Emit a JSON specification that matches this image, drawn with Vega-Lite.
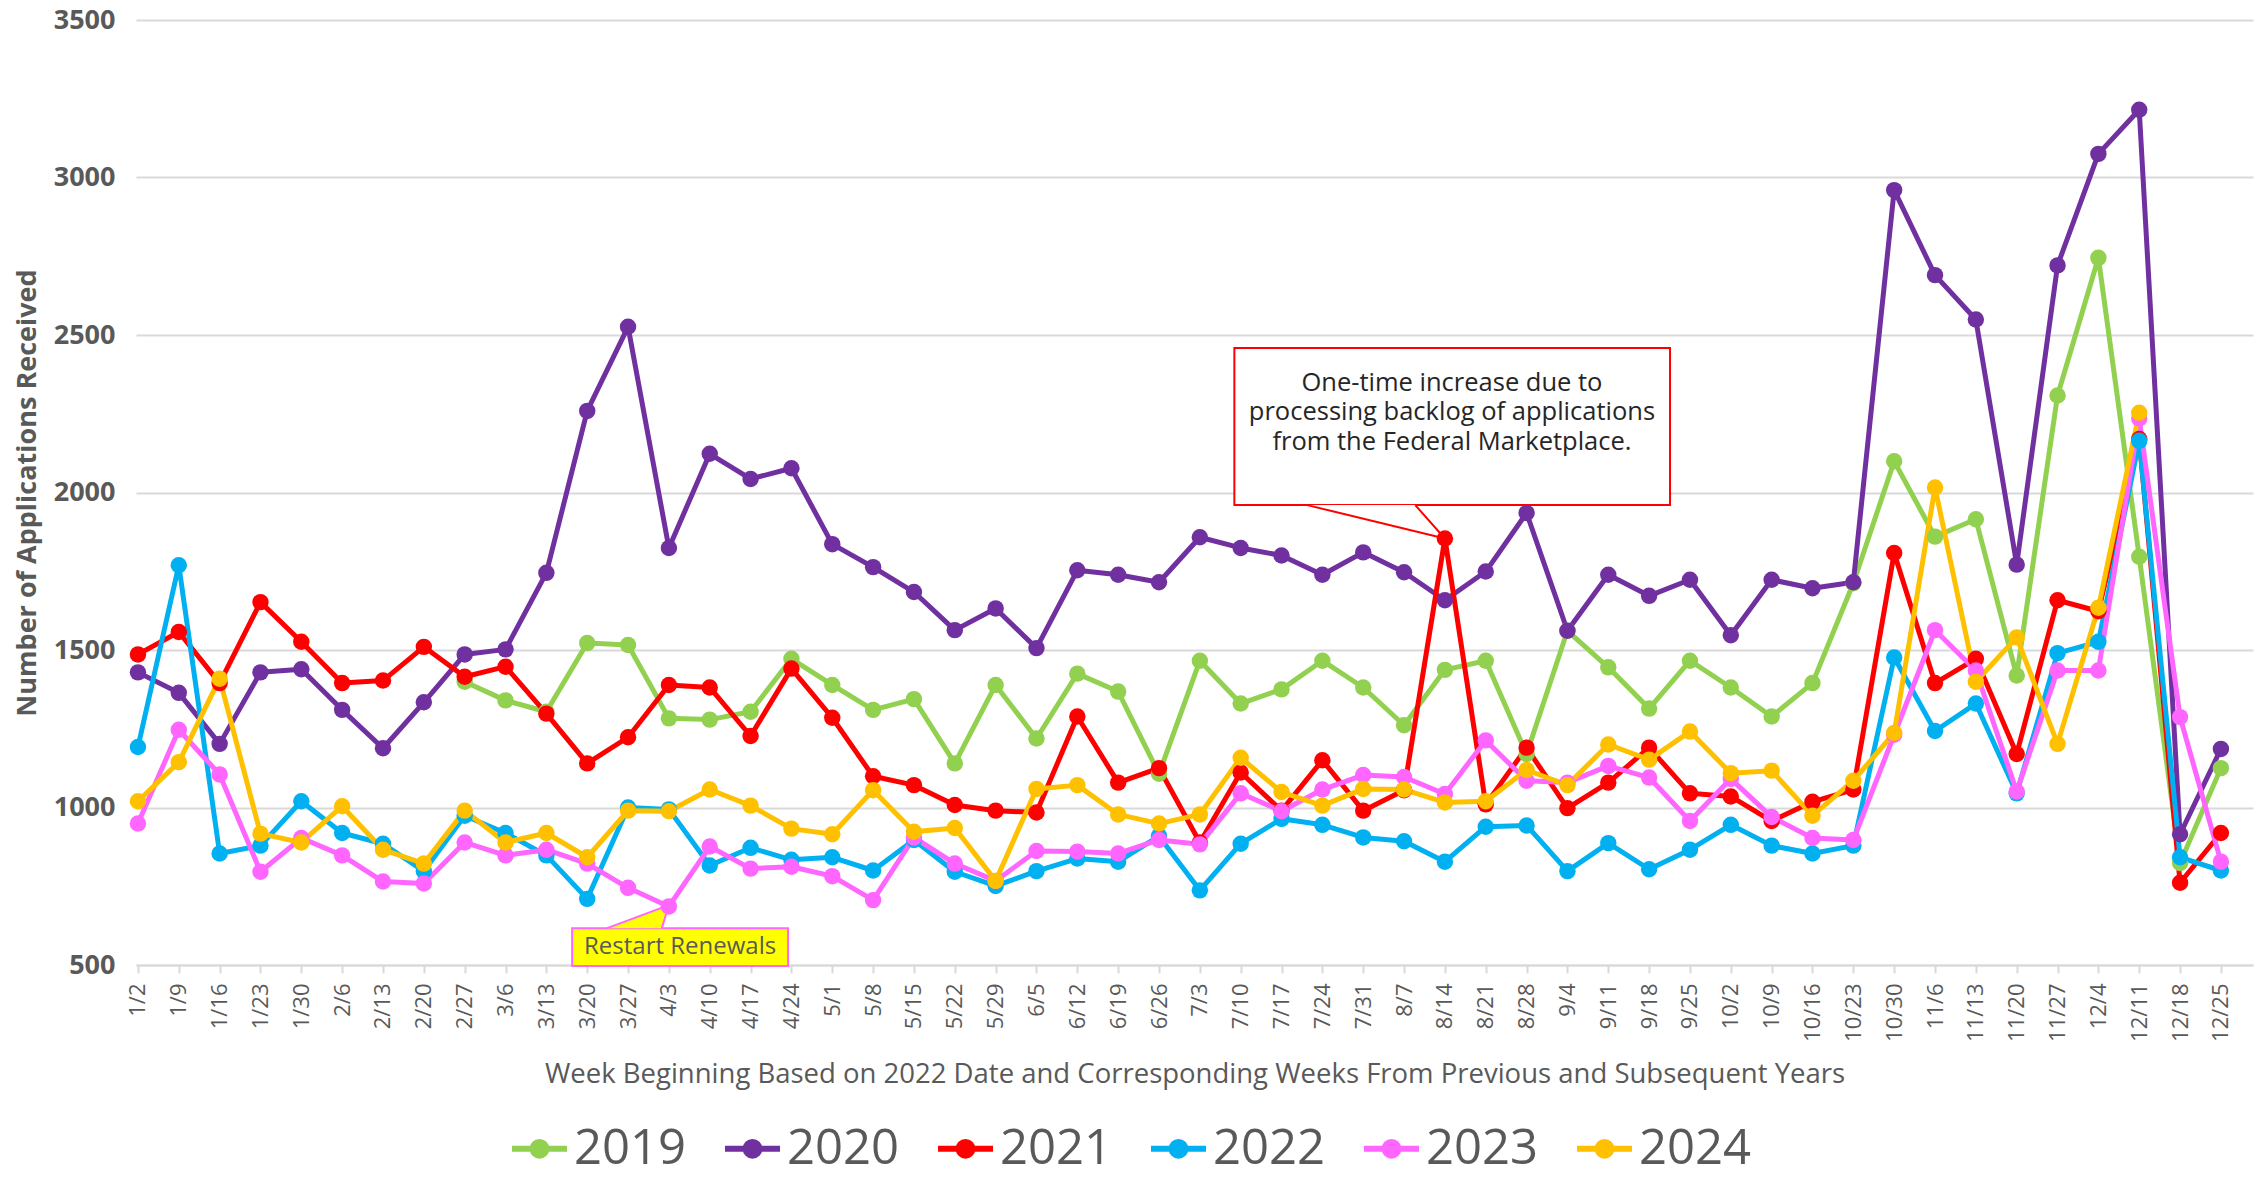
{
"$schema": "https://vega.github.io/schema/vega-lite/v6.json",
"width": 2117, "height": 945,
"autosize": {"type": "none"},
"padding": {"left": 136, "top": 20, "right": 14, "bottom": 216},
"background": "white",
"config": {"view": {"stroke": null}, "font": "Open Sans"},
"datasets": {
"apps": [
{"w":"2022-02-27","s":"2019","v":1399},{"w":"2022-03-06","s":"2019","v":1340},{"w":"2022-03-13","s":"2019","v":1304},{"w":"2022-03-20","s":"2019","v":1522},{"w":"2022-03-27","s":"2019","v":1516},{"w":"2022-04-03","s":"2019","v":1283},{"w":"2022-04-10","s":"2019","v":1279},{"w":"2022-04-17","s":"2019","v":1304},{"w":"2022-04-24","s":"2019","v":1472},{"w":"2022-05-01","s":"2019","v":1389},{"w":"2022-05-08","s":"2019","v":1310},{"w":"2022-05-15","s":"2019","v":1344},{"w":"2022-05-22","s":"2019","v":1140},{"w":"2022-05-29","s":"2019","v":1389},{"w":"2022-06-05","s":"2019","v":1219},{"w":"2022-06-12","s":"2019","v":1425},{"w":"2022-06-19","s":"2019","v":1368},{"w":"2022-06-26","s":"2019","v":1107},{"w":"2022-07-03","s":"2019","v":1466},{"w":"2022-07-10","s":"2019","v":1330},{"w":"2022-07-17","s":"2019","v":1375},{"w":"2022-07-24","s":"2019","v":1466},{"w":"2022-07-31","s":"2019","v":1381},{"w":"2022-08-07","s":"2019","v":1261},{"w":"2022-08-14","s":"2019","v":1437},{"w":"2022-08-21","s":"2019","v":1466},{"w":"2022-08-28","s":"2019","v":1170},{"w":"2022-09-04","s":"2019","v":1561},{"w":"2022-09-11","s":"2019","v":1445},{"w":"2022-09-18","s":"2019","v":1314},{"w":"2022-09-25","s":"2019","v":1466},{"w":"2022-10-02","s":"2019","v":1381},{"w":"2022-10-09","s":"2019","v":1289},{"w":"2022-10-16","s":"2019","v":1395},{"w":"2022-10-23","s":"2019","v":1712},{"w":"2022-10-30","s":"2019","v":2099},{"w":"2022-11-06","s":"2019","v":1860},{"w":"2022-11-13","s":"2019","v":1915},{"w":"2022-11-20","s":"2019","v":1419},{"w":"2022-11-27","s":"2019","v":2308},{"w":"2022-12-04","s":"2019","v":2745},{"w":"2022-12-11","s":"2019","v":1796},{"w":"2022-12-18","s":"2019","v":824},{"w":"2022-12-25","s":"2019","v":1125},
{"w":"2022-01-02","s":"2020","v":1429},{"w":"2022-01-09","s":"2020","v":1364},{"w":"2022-01-16","s":"2020","v":1202},{"w":"2022-01-23","s":"2020","v":1429},{"w":"2022-01-30","s":"2020","v":1439},{"w":"2022-02-06","s":"2020","v":1310},{"w":"2022-02-13","s":"2020","v":1188},{"w":"2022-02-20","s":"2020","v":1334},{"w":"2022-02-27","s":"2020","v":1486},{"w":"2022-03-06","s":"2020","v":1502},{"w":"2022-03-13","s":"2020","v":1745},{"w":"2022-03-20","s":"2020","v":2259},{"w":"2022-03-27","s":"2020","v":2526},{"w":"2022-04-03","s":"2020","v":1824},{"w":"2022-04-10","s":"2020","v":2123},{"w":"2022-04-17","s":"2020","v":2043},{"w":"2022-04-24","s":"2020","v":2077},{"w":"2022-05-01","s":"2020","v":1836},{"w":"2022-05-08","s":"2020","v":1763},{"w":"2022-05-15","s":"2020","v":1684},{"w":"2022-05-22","s":"2020","v":1563},{"w":"2022-05-29","s":"2020","v":1632},{"w":"2022-06-05","s":"2020","v":1506},{"w":"2022-06-12","s":"2020","v":1753},{"w":"2022-06-19","s":"2020","v":1739},{"w":"2022-06-26","s":"2020","v":1715},{"w":"2022-07-03","s":"2020","v":1858},{"w":"2022-07-10","s":"2020","v":1824},{"w":"2022-07-17","s":"2020","v":1800},{"w":"2022-07-24","s":"2020","v":1739},{"w":"2022-07-31","s":"2020","v":1810},{"w":"2022-08-07","s":"2020","v":1747},{"w":"2022-08-14","s":"2020","v":1658},{"w":"2022-08-21","s":"2020","v":1749},{"w":"2022-08-28","s":"2020","v":1935},{"w":"2022-09-04","s":"2020","v":1561},{"w":"2022-09-11","s":"2020","v":1739},{"w":"2022-09-18","s":"2020","v":1672},{"w":"2022-09-25","s":"2020","v":1723},{"w":"2022-10-02","s":"2020","v":1547},{"w":"2022-10-09","s":"2020","v":1723},{"w":"2022-10-16","s":"2020","v":1696},{"w":"2022-10-23","s":"2020","v":1715},{"w":"2022-10-30","s":"2020","v":2960},{"w":"2022-11-06","s":"2020","v":2690},{"w":"2022-11-13","s":"2020","v":2549},{"w":"2022-11-20","s":"2020","v":1771},{"w":"2022-11-27","s":"2020","v":2721},{"w":"2022-12-04","s":"2020","v":3075},{"w":"2022-12-11","s":"2020","v":3215},{"w":"2022-12-18","s":"2020","v":915},{"w":"2022-12-25","s":"2020","v":1186},
{"w":"2022-01-02","s":"2021","v":1486},{"w":"2022-01-09","s":"2021","v":1557},{"w":"2022-01-16","s":"2021","v":1395},{"w":"2022-01-23","s":"2021","v":1652},{"w":"2022-01-30","s":"2021","v":1526},{"w":"2022-02-06","s":"2021","v":1395},{"w":"2022-02-13","s":"2021","v":1403},{"w":"2022-02-20","s":"2021","v":1510},{"w":"2022-02-27","s":"2021","v":1415},{"w":"2022-03-06","s":"2021","v":1447},{"w":"2022-03-13","s":"2021","v":1298},{"w":"2022-03-20","s":"2021","v":1140},{"w":"2022-03-27","s":"2021","v":1223},{"w":"2022-04-03","s":"2021","v":1389},{"w":"2022-04-10","s":"2021","v":1381},{"w":"2022-04-17","s":"2021","v":1227},{"w":"2022-04-24","s":"2021","v":1441},{"w":"2022-05-01","s":"2021","v":1285},{"w":"2022-05-08","s":"2021","v":1099},{"w":"2022-05-15","s":"2021","v":1071},{"w":"2022-05-22","s":"2021","v":1008},{"w":"2022-05-29","s":"2021","v":990},{"w":"2022-06-05","s":"2021","v":984},{"w":"2022-06-12","s":"2021","v":1289},{"w":"2022-06-19","s":"2021","v":1079},{"w":"2022-06-26","s":"2021","v":1125},{"w":"2022-07-03","s":"2021","v":889},{"w":"2022-07-10","s":"2021","v":1111},{"w":"2022-07-17","s":"2021","v":990},{"w":"2022-07-24","s":"2021","v":1150},{"w":"2022-07-31","s":"2021","v":990},{"w":"2022-08-07","s":"2021","v":1055},{"w":"2022-08-14","s":"2021","v":1854},{"w":"2022-08-21","s":"2021","v":1010},{"w":"2022-08-28","s":"2021","v":1190},{"w":"2022-09-04","s":"2021","v":998},{"w":"2022-09-11","s":"2021","v":1079},{"w":"2022-09-18","s":"2021","v":1190},{"w":"2022-09-25","s":"2021","v":1045},{"w":"2022-10-02","s":"2021","v":1035},{"w":"2022-10-09","s":"2021","v":957},{"w":"2022-10-16","s":"2021","v":1018},{"w":"2022-10-23","s":"2021","v":1057},{"w":"2022-10-30","s":"2021","v":1808},{"w":"2022-11-06","s":"2021","v":1395},{"w":"2022-11-13","s":"2021","v":1472},{"w":"2022-11-20","s":"2021","v":1170},{"w":"2022-11-27","s":"2021","v":1658},{"w":"2022-12-04","s":"2021","v":1623},{"w":"2022-12-11","s":"2021","v":2170},{"w":"2022-12-18","s":"2021","v":761},{"w":"2022-12-25","s":"2021","v":919},
{"w":"2022-01-02","s":"2022","v":1192},{"w":"2022-01-09","s":"2022","v":1769},{"w":"2022-01-16","s":"2022","v":854},{"w":"2022-01-23","s":"2022","v":879},{"w":"2022-01-30","s":"2022","v":1020},{"w":"2022-02-06","s":"2022","v":919},{"w":"2022-02-13","s":"2022","v":885},{"w":"2022-02-20","s":"2022","v":798},{"w":"2022-02-27","s":"2022","v":974},{"w":"2022-03-06","s":"2022","v":919},{"w":"2022-03-13","s":"2022","v":848},{"w":"2022-03-20","s":"2022","v":710},{"w":"2022-03-27","s":"2022","v":1000},{"w":"2022-04-03","s":"2022","v":994},{"w":"2022-04-10","s":"2022","v":816},{"w":"2022-04-17","s":"2022","v":872},{"w":"2022-04-24","s":"2022","v":834},{"w":"2022-05-01","s":"2022","v":842},{"w":"2022-05-08","s":"2022","v":800},{"w":"2022-05-15","s":"2022","v":897},{"w":"2022-05-22","s":"2022","v":796},{"w":"2022-05-29","s":"2022","v":751},{"w":"2022-06-05","s":"2022","v":798},{"w":"2022-06-12","s":"2022","v":838},{"w":"2022-06-19","s":"2022","v":828},{"w":"2022-06-26","s":"2022","v":909},{"w":"2022-07-03","s":"2022","v":737},{"w":"2022-07-10","s":"2022","v":885},{"w":"2022-07-17","s":"2022","v":964},{"w":"2022-07-24","s":"2022","v":945},{"w":"2022-07-31","s":"2022","v":905},{"w":"2022-08-07","s":"2022","v":893},{"w":"2022-08-14","s":"2022","v":828},{"w":"2022-08-21","s":"2022","v":939},{"w":"2022-08-28","s":"2022","v":943},{"w":"2022-09-04","s":"2022","v":798},{"w":"2022-09-11","s":"2022","v":887},{"w":"2022-09-18","s":"2022","v":804},{"w":"2022-09-25","s":"2022","v":866},{"w":"2022-10-02","s":"2022","v":945},{"w":"2022-10-09","s":"2022","v":879},{"w":"2022-10-16","s":"2022","v":854},{"w":"2022-10-23","s":"2022","v":879},{"w":"2022-10-30","s":"2022","v":1476},{"w":"2022-11-06","s":"2022","v":1243},{"w":"2022-11-13","s":"2022","v":1330},{"w":"2022-11-20","s":"2022","v":1045},{"w":"2022-11-27","s":"2022","v":1490},{"w":"2022-12-04","s":"2022","v":1526},{"w":"2022-12-11","s":"2022","v":2164},{"w":"2022-12-18","s":"2022","v":842},{"w":"2022-12-25","s":"2022","v":800},
{"w":"2022-01-02","s":"2023","v":949},{"w":"2022-01-09","s":"2023","v":1247},{"w":"2022-01-16","s":"2023","v":1105},{"w":"2022-01-23","s":"2023","v":796},{"w":"2022-01-30","s":"2023","v":903},{"w":"2022-02-06","s":"2023","v":848},{"w":"2022-02-13","s":"2023","v":765},{"w":"2022-02-20","s":"2023","v":759},{"w":"2022-02-27","s":"2023","v":889},{"w":"2022-03-06","s":"2023","v":848},{"w":"2022-03-13","s":"2023","v":866},{"w":"2022-03-20","s":"2023","v":822},{"w":"2022-03-27","s":"2023","v":745},{"w":"2022-04-03","s":"2023","v":686},{"w":"2022-04-10","s":"2023","v":876},{"w":"2022-04-17","s":"2023","v":806},{"w":"2022-04-24","s":"2023","v":812},{"w":"2022-05-01","s":"2023","v":782},{"w":"2022-05-08","s":"2023","v":706},{"w":"2022-05-15","s":"2023","v":905},{"w":"2022-05-22","s":"2023","v":822},{"w":"2022-05-29","s":"2023","v":767},{"w":"2022-06-05","s":"2023","v":862},{"w":"2022-06-12","s":"2023","v":860},{"w":"2022-06-19","s":"2023","v":854},{"w":"2022-06-26","s":"2023","v":897},{"w":"2022-07-03","s":"2023","v":883},{"w":"2022-07-10","s":"2023","v":1045},{"w":"2022-07-17","s":"2023","v":988},{"w":"2022-07-24","s":"2023","v":1057},{"w":"2022-07-31","s":"2023","v":1103},{"w":"2022-08-07","s":"2023","v":1097},{"w":"2022-08-14","s":"2023","v":1043},{"w":"2022-08-21","s":"2023","v":1213},{"w":"2022-08-28","s":"2023","v":1085},{"w":"2022-09-04","s":"2023","v":1079},{"w":"2022-09-11","s":"2023","v":1132},{"w":"2022-09-18","s":"2023","v":1095},{"w":"2022-09-25","s":"2023","v":957},{"w":"2022-10-02","s":"2023","v":1091},{"w":"2022-10-09","s":"2023","v":970},{"w":"2022-10-16","s":"2023","v":903},{"w":"2022-10-23","s":"2023","v":897},{"w":"2022-10-30","s":"2023","v":1231},{"w":"2022-11-06","s":"2023","v":1563},{"w":"2022-11-13","s":"2023","v":1435},{"w":"2022-11-20","s":"2023","v":1051},{"w":"2022-11-27","s":"2023","v":1435},{"w":"2022-12-04","s":"2023","v":1435},{"w":"2022-12-11","s":"2023","v":2235},{"w":"2022-12-18","s":"2023","v":1287},{"w":"2022-12-25","s":"2023","v":828},
{"w":"2022-01-02","s":"2024","v":1020},{"w":"2022-01-09","s":"2024","v":1144},{"w":"2022-01-16","s":"2024","v":1409},{"w":"2022-01-23","s":"2024","v":917},{"w":"2022-01-30","s":"2024","v":889},{"w":"2022-02-06","s":"2024","v":1004},{"w":"2022-02-13","s":"2024","v":866},{"w":"2022-02-20","s":"2024","v":822},{"w":"2022-02-27","s":"2024","v":990},{"w":"2022-03-06","s":"2024","v":889},{"w":"2022-03-13","s":"2024","v":919},{"w":"2022-03-20","s":"2024","v":842},{"w":"2022-03-27","s":"2024","v":990},{"w":"2022-04-03","s":"2024","v":988},{"w":"2022-04-10","s":"2024","v":1057},{"w":"2022-04-17","s":"2024","v":1006},{"w":"2022-04-24","s":"2024","v":933},{"w":"2022-05-01","s":"2024","v":915},{"w":"2022-05-08","s":"2024","v":1055},{"w":"2022-05-15","s":"2024","v":923},{"w":"2022-05-22","s":"2024","v":935},{"w":"2022-05-29","s":"2024","v":767},{"w":"2022-06-05","s":"2024","v":1059},{"w":"2022-06-12","s":"2024","v":1071},{"w":"2022-06-19","s":"2024","v":978},{"w":"2022-06-26","s":"2024","v":949},{"w":"2022-07-03","s":"2024","v":978},{"w":"2022-07-10","s":"2024","v":1158},{"w":"2022-07-17","s":"2024","v":1049},{"w":"2022-07-24","s":"2024","v":1006},{"w":"2022-07-31","s":"2024","v":1059},{"w":"2022-08-07","s":"2024","v":1057},{"w":"2022-08-14","s":"2024","v":1016},{"w":"2022-08-21","s":"2024","v":1020},{"w":"2022-08-28","s":"2024","v":1119},{"w":"2022-09-04","s":"2024","v":1071},{"w":"2022-09-11","s":"2024","v":1200},{"w":"2022-09-18","s":"2024","v":1152},{"w":"2022-09-25","s":"2024","v":1241},{"w":"2022-10-02","s":"2024","v":1109},{"w":"2022-10-09","s":"2024","v":1117},{"w":"2022-10-16","s":"2024","v":974},{"w":"2022-10-23","s":"2024","v":1085},{"w":"2022-10-30","s":"2024","v":1237},{"w":"2022-11-06","s":"2024","v":2016},{"w":"2022-11-13","s":"2024","v":1399},{"w":"2022-11-20","s":"2024","v":1540},{"w":"2022-11-27","s":"2024","v":1202},{"w":"2022-12-04","s":"2024","v":1634},{"w":"2022-12-11","s":"2024","v":2253}
]
},
"layer": [
{
"data": {"values": [{"a": "2022-07-08T22:00:00Z", "b": "2022-09-21T14:00:00Z", "lo": 1960, "hi": 2459}]},
"mark": {"type": "rect", "fill": "white", "stroke": "#FF0000", "strokeWidth": 2},
"encoding": {"x": {"field": "a", "type": "temporal"}, "x2": {"field": "b"}, "y": {"field": "lo", "type": "quantitative"}, "y2": {"field": "hi"}}
},
{
"data": {"values": [{"t": "2022-07-21T10:00:00Z", "v": 1960, "o": 1}, {"t": "2022-08-14T00:00:00Z", "v": 1854, "o": 2}, {"t": "2022-08-08T22:00:00Z", "v": 1960, "o": 3}]},
"mark": {"type": "line", "fill": "white", "stroke": "#FF0000", "strokeWidth": 2, "strokeJoin": "miter"},
"encoding": {"x": {"field": "t", "type": "temporal"}, "y": {"field": "v", "type": "quantitative"}, "order": {"field": "o"}}
},
{
"data": {"values": [{"t": "One-time increase due to|processing backlog of applications|from the Federal Marketplace.", "x": "2022-08-15T05:00:00Z", "v": 2348}]},
"mark": {"type": "text", "lineBreak": "|", "lineHeight": 29.5, "fontSize": 25.5, "color": "#262626", "align": "center", "baseline": "middle"},
"encoding": {"x": {"field": "x", "type": "temporal"}, "y": {"field": "v", "type": "quantitative"}, "text": {"field": "t"}}
},
{
"data": {"values": [{"a": "2022-03-17T10:00:00Z", "b": "2022-04-23T10:00:00Z", "lo": 497, "hi": 617}]},
"mark": {"type": "rect", "fill": "#FFFF00", "stroke": "#FF66FF", "strokeWidth": 2},
"encoding": {"x": {"field": "a", "type": "temporal"}, "x2": {"field": "b"}, "y": {"field": "lo", "type": "quantitative"}, "y2": {"field": "hi"}}
},
{
"data": {"values": [{"t": "2022-03-23T10:00:00Z", "v": 617, "o": 1}, {"t": "2022-04-03T00:00:00Z", "v": 690, "o": 2}, {"t": "2022-04-01T19:00:00Z", "v": 617, "o": 3}]},
"mark": {"type": "line", "fill": "#FFFF00", "stroke": "#FF66FF", "strokeWidth": 2, "strokeJoin": "miter"},
"encoding": {"x": {"field": "t", "type": "temporal"}, "y": {"field": "v", "type": "quantitative"}, "order": {"field": "o"}}
},
{
"data": {"values": [{"t": "Restart Renewals", "x": "2022-04-04T22:00:00Z", "v": 557}]},
"mark": {"type": "text", "fontSize": 24, "color": "#595959", "align": "center", "baseline": "middle"},
"encoding": {"x": {"field": "x", "type": "temporal"}, "y": {"field": "v", "type": "quantitative"}, "text": {"field": "t"}}
},
{
"data": {"name": "apps"},
"mark": {"type": "line", "strokeWidth": 5, "strokeJoin": "round", "strokeCap": "round"},
"encoding": {
"x": {"field": "w", "type": "temporal"},
"y": {"field": "v", "type": "quantitative"},
"color": {"field": "s", "type": "nominal",
"scale": {"domain": ["2019", "2020", "2021", "2022", "2023", "2024"], "range": ["#92D050", "#7030A0", "#FF0000", "#00B0F0", "#FF66FF", "#FFC000"]},
"legend": {"orient": "none", "legendX": 373, "legendY": 1098, "direction": "horizontal", "title": null, "padding": 0, "labelFontSize": 49, "labelLimit": 400, "labelColor": "#595959", "labelOffset": 4, "columnPadding": 26, "symbolType": "M-1,0L1,0M-0.25,0A0.25,0.25,0,1,1,0.25,0A0.25,0.25,0,1,1,-0.25,0Z", "symbolSize": 3025, "symbolStrokeWidth": 6,
"encode": {"symbols": {"update": {"fill": {"scale": "color", "field": "value"}, "stroke": {"scale": "color", "field": "value"}, "opacity": {"value": 1}, "strokeWidth": {"value": 6}}}}}
}
}
},
{
"data": {"name": "apps"},
"mark": {"type": "point", "filled": true, "size": 270, "opacity": 1},
"encoding": {
"x": {"field": "w", "type": "temporal"},
"y": {"field": "v", "type": "quantitative"},
"color": {"field": "s", "type": "nominal",
"scale": {"domain": ["2019", "2020", "2021", "2022", "2023", "2024"], "range": ["#92D050", "#7030A0", "#FF0000", "#00B0F0", "#FF66FF", "#FFC000"]},
"legend": {"orient": "none", "legendX": 373, "legendY": 1098, "direction": "horizontal", "title": null, "padding": 0, "labelFontSize": 49, "labelLimit": 400, "labelColor": "#595959", "labelOffset": 4, "columnPadding": 26, "symbolType": "M-1,0L1,0M-0.25,0A0.25,0.25,0,1,1,0.25,0A0.25,0.25,0,1,1,-0.25,0Z", "symbolSize": 3025, "symbolStrokeWidth": 6,
"encode": {"symbols": {"update": {"fill": {"scale": "color", "field": "value"}, "stroke": {"scale": "color", "field": "value"}, "opacity": {"value": 1}, "strokeWidth": {"value": 6}}}}}
}
}
}
],
"encoding": {
"x": {"field": "w", "type": "temporal",
"scale": {"type": "utc", "domain": [{"year": 2022, "month": 1, "date": 1, "hours": 16, "utc": true}, {"year": 2022, "month": 12, "date": 30, "hours": 12, "utc": true}]},
"axis": {"title": "Week Beginning Based on 2022 Date and Corresponding Weeks From Previous and Subsequent Years", "format": "%-m/%-d", "tickCount": {"interval": "week", "step": 1}, "labelAngle": -90, "labelFontSize": 22, "labelColor": "#595959", "labelOverlap": false, "labelFlush": false, "labelPadding": 10, "domainColor": "#D9D9D9", "domainWidth": 2, "tickColor": "#D9D9D9", "tickWidth": 2, "tickSize": 8, "grid": false, "titleFontSize": 27.5, "titleFontWeight": "normal", "titleColor": "#595959", "titlePadding": 19}
},
"y": {"field": "v", "type": "quantitative",
"scale": {"domain": [500, 3500], "nice": false, "zero": false},
"axis": {"title": "Number of Applications Received", "format": "d", "values": [500, 1000, 1500, 2000, 2500, 3000, 3500], "grid": true, "gridColor": "#D9D9D9", "gridWidth": 2, "domain": false, "ticks": false, "labelFontSize": 27, "labelFontWeight": "bold", "labelColor": "#595959", "labelPadding": 21, "titleFontSize": 27, "titleFontWeight": "bold", "titleColor": "#595959", "titlePadding": 12}
}
}
}
